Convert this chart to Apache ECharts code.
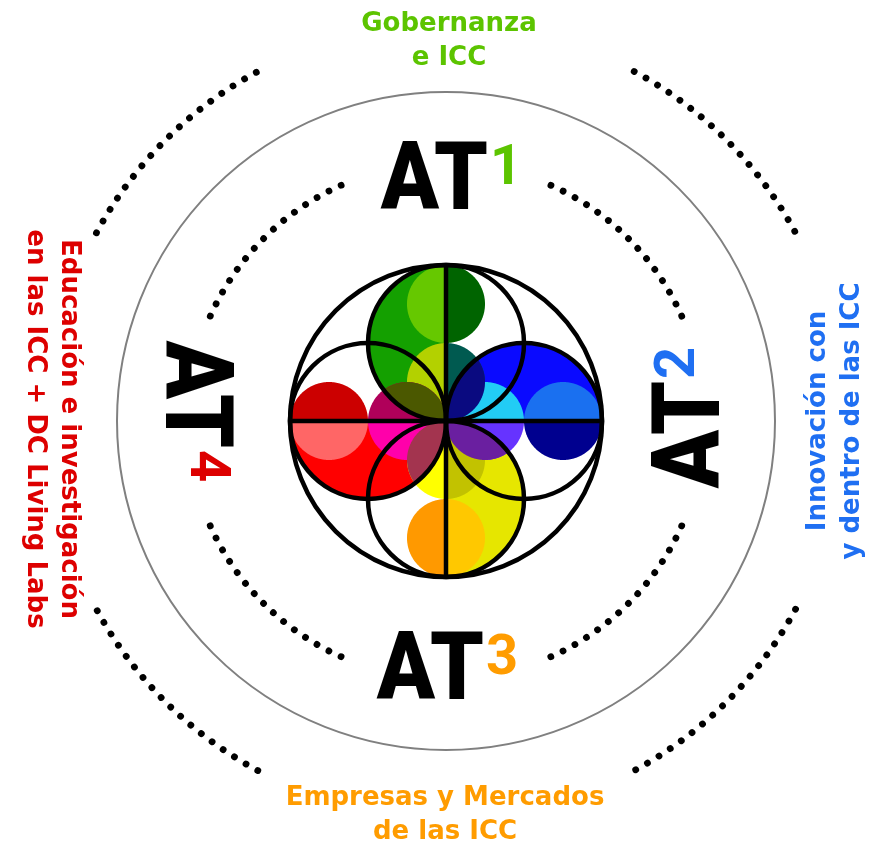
<!DOCTYPE html>
<html>
<head>
<meta charset="utf-8">
<script src="https://cdn.jsdelivr.net/npm/echarts@6/dist/echarts.min.js"></script>
<style>
  html, body { margin: 0; background: #fff; }
  #chart { width: 887px; height: 842px; }
</style>
</head>
<body>
<div id="chart"></div>
<script>
// áreas temáticas (arriba, derecha, abajo, izquierda)
var themes = [
  'Gobernanza\ne ICC',
  'Innovación con\ny dentro de las ICC',
  'Empresas y Mercados\nde las ICC',
  'Educación e investigación\nen las ICC + DC Living Labs'
];
var areaNames = ['AT', 'AT', 'AT', 'AT'];
var areaNumbers = ['1', '2', '3', '4'];
var areaColors = ['#5cc400', '#1f6ff2', '#ff9c00', '#dd0000'];
// centro de cada arco de puntos, en grados
var dotArcCenters = [45, 135, 225, 315];

var W = 887, H = 842, CX = 446, CY = 421;
var chart = echarts.init(document.getElementById('chart'));

// ---- geometria de la flor ----
function circ(cx, cy, r) {
  var pts = [];
  for (var i = 0; i < 200; i++) {
    var t = i / 200 * Math.PI * 2;
    pts.push([cx + r * Math.cos(t), cy + r * Math.sin(t)]);
  }
  return pts;
}
function box(x1, y1, x2, y2) {
  return [[x1, y1], [x2, y1], [x2, y2], [x1, y2]];
}
function side(a, b, p) {
  return (b[0] - a[0]) * (p[1] - a[1]) - (b[1] - a[1]) * (p[0] - a[0]);
}
// recorte de poligonos convexos (Sutherland-Hodgman)
function clip(subject, clipper) {
  var out = subject;
  for (var i = 0; i < clipper.length && out.length; i++) {
    var a = clipper[i], b = clipper[(i + 1) % clipper.length];
    var input = out;
    out = [];
    for (var j = 0; j < input.length; j++) {
      var p = input[j], q = input[(j + 1) % input.length];
      var sp = side(a, b, p), sq = side(a, b, q);
      if (sp >= 0) out.push(p);
      if ((sp >= 0) !== (sq >= 0)) {
        var t = sp / (sp - sq);
        out.push([p[0] + t * (q[0] - p[0]), p[1] + t * (q[1] - p[1])]);
      }
    }
  }
  return out;
}

var R0 = 156, RP = 78, RS = 39;
var shapes = {
  T: circ(0, RP, RP), R: circ(RP, 0, RP), B: circ(0, -RP, RP), L: circ(-RP, 0, RP),
  To: circ(0, 117, RS), Ti: circ(0, 39, RS),
  Ro: circ(117, 0, RS), Ri: circ(39, 0, RS),
  Bo: circ(0, -117, RS), Bi: circ(0, -39, RS),
  Lo: circ(-117, 0, RS), Li: circ(-39, 0, RS),
  xl: box(-999, -999, 0, 999), xr: box(0, -999, 999, 999),
  yu: box(-999, 0, 999, 999), yd: box(-999, -999, 999, 0)
};
var regions = [
  [['T', 'xl'], '#14a000'], [['R', 'yu'], '#0a0aff'], [['B', 'xr'], '#e6e600'], [['L', 'yd'], '#ff0000'],
  [['To', 'xl'], '#66c800'], [['To', 'xr'], '#006400'],
  [['Ro', 'yu'], '#1a70f0'], [['Ro', 'yd'], '#00008f'],
  [['Bo', 'xr'], '#ffc800'], [['Bo', 'xl'], '#ff9900'],
  [['Lo', 'yd'], '#ff6666'], [['Lo', 'yu'], '#cc0000'],
  [['Ti', 'xl'], '#b3d100'], [['Ti', 'xr'], '#005a50'],
  [['Ri', 'yu'], '#22ccf5'], [['Ri', 'yd'], '#6633ff'],
  [['Bi', 'xr'], '#c2c200'], [['Bi', 'xl'], '#ffff00'],
  [['Li', 'yd'], '#ff00aa'], [['Li', 'yu'], '#b0005a'],
  [['Li', 'yu', 'T', 'xl'], '#4b5800'], [['Ti', 'xr', 'R', 'yu'], '#0a0a80'],
  [['Ri', 'yd', 'B', 'xr'], '#6a1fa0'], [['Bi', 'xl', 'L', 'yd'], '#a3344f']
];

function renderFlower(params, api) {
  var children = [];
  var px = function (p) { return api.coord(p); };
  var rpx = function (r) { return api.size([r, r])[0]; };
  regions.forEach(function (reg) {
    var keys = reg[0];
    var poly = shapes[keys[0]];
    for (var k = 1; k < keys.length; k++) poly = clip(poly, shapes[keys[k]]);
    if (poly.length > 2) {
      children.push({ type: 'polygon', shape: { points: poly.map(px) }, style: { fill: reg[1] } });
    }
  });
  var line = { fill: 'none', stroke: '#000', lineWidth: 4.5 };
  [[0, 0, R0], [0, RP, RP], [RP, 0, RP], [0, -RP, RP], [-RP, 0, RP]].forEach(function (c) {
    var p = api.coord([c[0], c[1]]);
    children.push({ type: 'circle', shape: { cx: p[0], cy: p[1], r: rpx(c[2]) }, style: line });
  });
  var a = api.coord([-R0, 0]), b = api.coord([R0, 0]), c = api.coord([0, R0]), d = api.coord([0, -R0]);
  children.push({ type: 'line', shape: { x1: a[0], y1: a[1], x2: b[0], y2: b[1] }, style: line });
  children.push({ type: 'line', shape: { x1: c[0], y1: c[1], x2: d[0], y2: d[1] }, style: line });
  return { type: 'group', children: children };
}

function renderRings(params, api) {
  var o = api.coord([0, 0]);
  var children = [{
    type: 'circle',
    shape: { cx: o[0], cy: o[1], r: api.size([329, 329])[0] },
    style: { fill: 'none', stroke: '#808080', lineWidth: 2 }
  }];
  // arcos de puntos interiores y exteriores
  [[258, 21], [397, 16.7]].forEach(function (ring) {
    dotArcCenters.forEach(function (deg) {
      children.push({
        type: 'arc',
        shape: {
          cx: o[0], cy: o[1], r: api.size([ring[0], ring[0]])[0],
          startAngle: -(deg + ring[1]) * Math.PI / 180,
          endAngle: -(deg - ring[1]) * Math.PI / 180 + 0.002,
          clockwise: true
        },
        style: { fill: 'none', stroke: '#000', lineWidth: 6.8, lineCap: 'round', lineDash: [0.01, 13.5] }
      });
    });
  });
  return { type: 'group', children: children };
}

var themePos = [[3, 380], [389, 0], [-1, -394], [-394, -8]];
var areaPos = [[0, 245], [240, -2], [-4, -245], [-247, 15]];
var rotations = [0, Math.PI / 2, 0, -Math.PI / 2];

function renderLabel(params, api) {
  var i = params.dataIndex;
  var t = api.coord(themePos[i]);
  var g = api.coord(areaPos[i]);
  return {
    type: 'group',
    children: [
      {
        type: 'text', x: t[0], y: t[1], rotation: rotations[i],
        style: {
          text: themes[i], fill: areaColors[i], fontFamily: 'DejaVu Sans', fontWeight: 'bold',
          fontSize: 26, lineHeight: 34, align: 'center', verticalAlign: 'middle'
        }
      },
      {
        type: 'group', x: g[0], y: g[1], rotation: rotations[i],
        children: [
          {
            type: 'text', x: 42, y: 9, scaleX: 0.9,
            style: {
              text: areaNames[i], fill: '#000', fontFamily: 'Roboto', fontWeight: 900,
              fontSize: 95, align: 'right', verticalAlign: 'middle'
            }
          },
          {
            type: 'text', x: 44, y: -6,
            style: {
              text: areaNumbers[i], fill: areaColors[i], fontFamily: 'Roboto', fontWeight: 'bold',
              fontSize: 56, align: 'left', verticalAlign: 'middle'
            }
          }
        ]
      }
    ]
  };
}

chart.setOption({
  animation: false,
  grid: { left: 0, right: 0, top: 0, bottom: 0 },
  xAxis: { type: 'value', min: -CX, max: W - CX, show: false },
  yAxis: { type: 'value', min: CY - H, max: CY, show: false },
  series: [
    { type: 'custom', name: 'anillos', data: [[0, 0]], clip: false, renderItem: renderRings },
    { type: 'custom', name: 'flor', data: [[0, 0]], clip: false, renderItem: renderFlower },
    {
      type: 'custom', name: 'etiquetas', clip: false, renderItem: renderLabel,
      data: themes.map(function (t, i) { return [0, 0, i]; })
    }
  ]
});
</script>
</body>
</html>
